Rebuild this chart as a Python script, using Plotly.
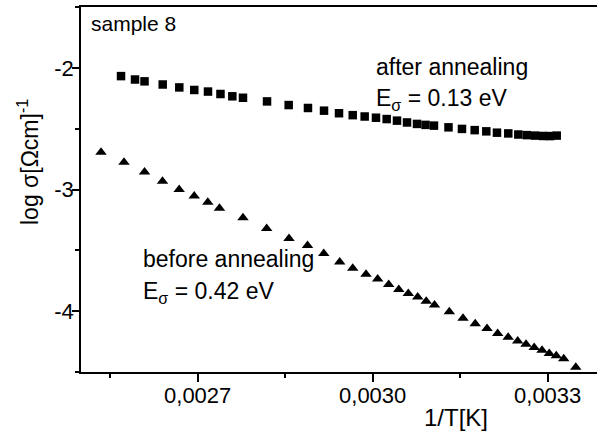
import plotly.graph_objects as go

# after annealing (squares)
after_x = [0.0025686, 0.0025926, 0.0026089, 0.0026401, 0.0026685, 0.0026942, 0.0027177,
           0.0027391, 0.0027594, 0.0027777, 0.0028189, 0.0028560, 0.0028891, 0.0029166,
           0.0029423, 0.0029658, 0.0029863, 0.0030057, 0.0030240, 0.0030417, 0.0030589,
           0.0030760, 0.0030906, 0.0031051, 0.0031300, 0.0031531, 0.0031749, 0.0031948,
           0.0032131, 0.0032325, 0.0032497, 0.0032641, 0.0032783, 0.0032920, 0.0033040,
           0.0033155]
after_y = [-2.068, -2.096, -2.111, -2.137, -2.161, -2.182, -2.195, -2.215, -2.234, -2.246,
           -2.276, -2.306, -2.330, -2.352, -2.373, -2.389, -2.400, -2.410, -2.421, -2.434,
           -2.449, -2.461, -2.469, -2.475, -2.489, -2.502, -2.512, -2.522, -2.533, -2.539,
           -2.548, -2.553, -2.557, -2.560, -2.561, -2.557]

# before annealing (triangles)
before_x = [0.0025343, 0.0025737, 0.0026089, 0.0026397, 0.0026683, 0.0026941, 0.0027174,
            0.0027374, 0.0027777, 0.0028183, 0.0028566, 0.0028883, 0.0029162, 0.0029435,
            0.0029658, 0.0029886, 0.0030086, 0.0030275, 0.0030448, 0.0030611, 0.0030772,
            0.0030918, 0.0031060, 0.0031314, 0.0031549, 0.0031758, 0.0031960, 0.0032143,
            0.0032323, 0.0032486, 0.0032629, 0.0032769, 0.0032903, 0.0033028, 0.0033148,
            0.0033275, 0.0033482]
before_y = [-2.693, -2.775, -2.857, -2.932, -3.000, -3.053, -3.104, -3.154, -3.232, -3.320,
            -3.402, -3.461, -3.525, -3.596, -3.648, -3.697, -3.735, -3.781, -3.821, -3.854,
            -3.883, -3.918, -3.949, -4.004, -4.059, -4.104, -4.142, -4.183, -4.215, -4.246,
            -4.272, -4.298, -4.322, -4.348, -4.367, -4.392, -4.461]

y_tickvals = [-4, -3, -2]
y_ticktext = ["-4", "-3", "-2"]

W, H = 597, 435
L, T, R, B = 81, 7, 0, 63
PW, PH = W - L - R, H - T - B

def X(px):
    return (px - L) / PW

def Y(py):
    return (H - B - py) / PH

FONT = "Liberation Sans, Arial, sans-serif"

fig = go.Figure()
fig.add_trace(go.Scatter(x=after_x, y=after_y, mode="markers",
                         marker=dict(symbol="square", size=8.5, color="black", line=dict(width=0)),
                         showlegend=False))
fig.add_trace(go.Scatter(x=before_x, y=before_y, mode="markers",
                         marker=dict(symbol="triangle-up", size=10, color="black", line=dict(width=0)),
                         showlegend=False))

def ann(text, px, py, size=23, xanchor="left", angle=0):
    fig.add_annotation(text=text, xref="paper", yref="paper", x=X(px), y=Y(py),
                       xanchor=xanchor, yanchor="middle", showarrow=False, textangle=angle,
                       font=dict(family=FONT, size=size, color="black"))

ann("sample 8", 89, 23.5, size=21)
ann("after annealing", 374, 66.5)
ann("E<sub>σ</sub> = 0.13 eV", 374, 99.5)
ann("before annealing", 141, 259)
ann("E<sub>σ</sub> = 0.42 eV", 141, 292.5)
ann("1/T[K]", 456, 417, size=24, xanchor="center")
ann("log σ[Ωcm]<sup>-1</sup>", 28, 162, size=23, xanchor="center", angle=-90)

fig.update_layout(
    width=W, height=H,
    margin=dict(l=L, r=R, t=T, b=B, pad=0),
    paper_bgcolor="white", plot_bgcolor="white",
    separators=",.",
    font=dict(family=FONT, size=22, color="black"),
    showlegend=False,
    xaxis=dict(range=[0.0025, 0.0025 + PW * 0.0003 / 175], showgrid=False, zeroline=False,
               showline=True, linecolor="black", linewidth=1.5, mirror=True,
               ticks="outside", ticklen=8, tickwidth=1.5, tickcolor="black",
               tickmode="linear", tick0=0.0027, dtick=0.0003, tickformat=".4f",
               tickfont=dict(family=FONT, size=22), ticklabelstandoff=-5,
               minor=dict(ticks="outside", ticklen=4, tickwidth=1.5, tickcolor="black",
                          dtick=0.00015, tick0=0.0027, showgrid=False)),
    yaxis=dict(range=[-4.5, -1.5], showgrid=False, zeroline=False,
               showline=True, linecolor="black", linewidth=1.5,
               ticks="outside", ticklen=7, tickwidth=1.5, tickcolor="black",
               tickmode="array", tickvals=y_tickvals, ticktext=y_ticktext,
               tickfont=dict(family=FONT, size=22), ticklabelstandoff=-6,
               minor=dict(ticks="outside", ticklen=4, tickwidth=1.5, tickcolor="black",
                          tickmode="array", tickvals=[-4.5, -3.5, -2.5, -1.5], showgrid=False)),
)

fig.write_html("out.html")
